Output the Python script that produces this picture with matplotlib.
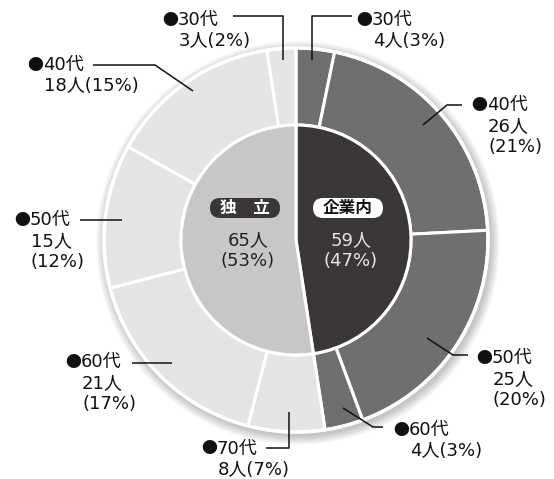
import matplotlib
matplotlib.use("Agg")
import matplotlib.pyplot as plt
from matplotlib.patches import Circle, FancyBboxPatch

# DejaVu first so digits and brackets come out wide, CJK falls through to Noto
plt.rcParams['font.family'] = ['DejaVu Sans', 'Noto Sans CJK JP']

# data
inner_labels = ['企業内', '独　立']
inner_values = [59, 65]
inner_pcts = [47, 53]

outer_ages = ['30代', '40代', '50代', '60代', '70代', '60代', '50代', '40代', '30代']
outer_values = [4, 26, 25, 4, 8, 21, 15, 18, 3]
outer_pcts = [3, 21, 20, 3, 7, 17, 12, 15, 2]
outer_group = [0, 0, 0, 0, 1, 1, 1, 1, 1]

W, H = 554, 479
CX, CY = 296, H - 240
R_OUT, R_IN = 192, 115

inner_colors = ['#3b3736', '#c7c7c7']
outer_colors = ['#6f6f6f', '#e4e4e4']

fig = plt.figure(figsize=(W / 100, H / 100), dpi=100)
ax = fig.add_axes([0, 0, 1, 1])
ax.set_aspect('equal')
ax.axis('off')

# soft shadow round the ring
for i in range(10):
    ax.add_patch(Circle((CX + 2, CY - 3), R_OUT + 10 - i, color='#000000',
                        alpha=0.025, lw=0, zorder=0))

ax.pie(outer_values, radius=R_OUT, center=(CX, CY), startangle=90, counterclock=False,
       colors=[outer_colors[g] for g in outer_group],
       wedgeprops=dict(width=R_OUT - R_IN, edgecolor='white', linewidth=2.2))
ax.pie(inner_values, radius=R_IN, center=(CX, CY), startangle=90, counterclock=False,
       colors=inner_colors, wedgeprops=dict(edgecolor='white', linewidth=2.2))
ax.add_patch(Circle((CX, CY), R_OUT, fill=False, ec='white', lw=2.5, zorder=5))
ax.set_xlim(0, W)
ax.set_ylim(0, H)

# outer labels: left of the bullet, y of first line (from top), leader line (from top)
layout = [
    ((357, 20), [(352, 16), (312, 16), (312, 60)]),
    ((472, 105), [(462, 105), (447, 105), (423, 125)]),
    ((477, 358), [(468, 355), (453, 355), (427, 338)]),
    ((394, 430), [(383, 427), (373, 427), (343, 408)]),
    ((202, 449), [(266, 448), (289, 448), (289, 412)]),
    ((66, 362), [(132, 363), (172, 363)]),
    ((15, 220), [(80, 220), (122, 220)]),
    ((28, 65), [(93, 65), (155, 65), (193, 91)]),
    ((163, 20), [(233, 16), (283, 16), (283, 60)]),
]
two_line = [0, 3, 4, 7, 8]

fs = 13
ink = '#111111'
for i, ((tx, ty), pts) in enumerate(layout):
    ax.plot([p[0] for p in pts], [H - p[1] for p in pts], color=ink, lw=1.1,
            zorder=6, solid_capstyle='butt')
    ax.text(tx - 1, H - ty, '●', ha='left', va='center', fontsize=11.5, color=ink,
            family='Noto Sans CJK JP', zorder=7)
    ax.text(tx + 15, H - ty, outer_ages[i], ha='left', va='center', fontsize=fs,
            color=ink, zorder=7)
    if i in two_line:
        rest = [f'{outer_values[i]}人({outer_pcts[i]}%)']
    else:
        rest = [f'{outer_values[i]}人', f'({outer_pcts[i]}%)']
    for k, s in enumerate(rest):
        ax.text(tx + 16, H - ty - 21 * (k + 1), s, ha='left', va='center', fontsize=fs,
                color=ink, zorder=7)

# inner labels with rounded tags
inner_pos = [348, 245]
for j in range(2):
    x = inner_pos[j]
    if j == 0:
        fc, tcol, ncol = 'white', ink, '#e6e6e6'
    else:
        fc, tcol, ncol = '#3b3736', 'white', '#222222'
    ax.add_patch(FancyBboxPatch((x - 35, H - 218), 70, 20,
                                boxstyle='round,pad=0,rounding_size=10',
                                fc=fc, ec='none', zorder=8))
    ax.text(x, H - 208, inner_labels[j], ha='center', va='center', fontsize=12,
            color=tcol, zorder=9, family='Noto Sans CJK JP', fontweight='bold')
    ax.text(x + 3, H - 240, f'{inner_values[j]}人', ha='center', va='center', fontsize=fs,
            color=ncol, zorder=8)
    ax.text(x + 3, H - 261, f'({inner_pcts[j]}%)', ha='center', va='center', fontsize=fs,
            color=ncol, zorder=8)

fig.savefig('out.png', dpi=100)
